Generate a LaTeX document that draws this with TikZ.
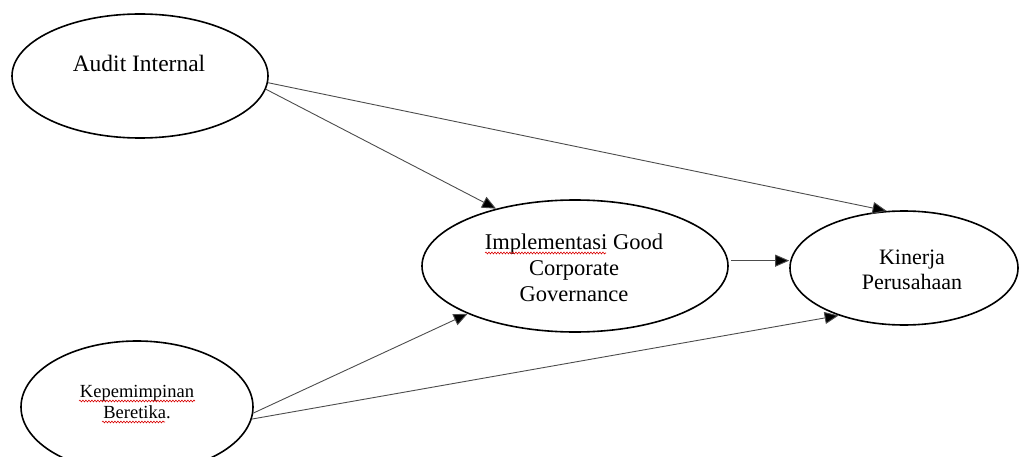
\documentclass[tikz,border=0pt]{standalone}
\usepackage{fontspec}
\setmainfont{Liberation Serif}
\usetikzlibrary{shapes.geometric,arrows.meta,decorations.pathmorphing}
\begin{document}
\begin{tikzpicture}[x=1pt,y=-1pt,
  oval/.style={draw=black,line width=1.6pt,ellipse,inner sep=0pt},
  lbl/.style={align=center,inner sep=0pt},
  arr/.style={draw=black!70,line width=0.9pt,-{Triangle[length=14pt,width=12pt,fill=black]}},
  squig/.style={draw=red!85!black,line width=0.6pt,decorate,decoration={snake,amplitude=0.9pt,segment length=3pt}}]
\useasboundingbox (0,0) rectangle (1022,457);
\node[oval,minimum width=256pt,minimum height=124pt] (audit) at (140,76) {};
\node[oval,minimum width=306pt,minimum height=132pt] (impl) at (575,266) {};
\node[oval,minimum width=228pt,minimum height=114pt] (kin) at (904,268) {};
\node[oval,minimum width=232pt,minimum height=132pt] (kep) at (137,407) {};
\node[lbl,font=\fontsize{23.5}{28}\selectfont] (auditt) at (139,63) {Audit Internal};
\node[lbl,font=\fontsize{22.5}{26}\selectfont] (implt) at (574,268) {Implementasi Good\\Corporate\\Governance};
\node[lbl,font=\fontsize{22}{24.5}\selectfont] (kint) at (912,270) {Kinerja\\Perusahaan};
\node[lbl,font=\fontsize{18.5}{20.5}\selectfont] (kept) at (137,402) {Kepemimpinan\\Beretika.};
\draw[arr] (audit.-6) -- (impl.144);
\draw[arr] (audit.-3) -- (kin.107);
\draw[arr,shorten <=3pt] (impl.2) -- (impl.2 -| kin.west);
\draw[arr] (kep.-3) -- (impl.204);
\draw[arr] (kep.-6) -- (kin.216);
\coordinate (s1a) at (485,253); \coordinate (s1b) at (606,253);
\coordinate (s2a) at (79,401); \coordinate (s2b) at (195,401);
\coordinate (s3a) at (102,422); \coordinate (s3b) at (165,422);
\draw[squig] (s1a) -- (s1b);
\draw[squig] (s2a) -- (s2b);
\draw[squig] (s3a) -- (s3b);
\end{tikzpicture}
\end{document}
